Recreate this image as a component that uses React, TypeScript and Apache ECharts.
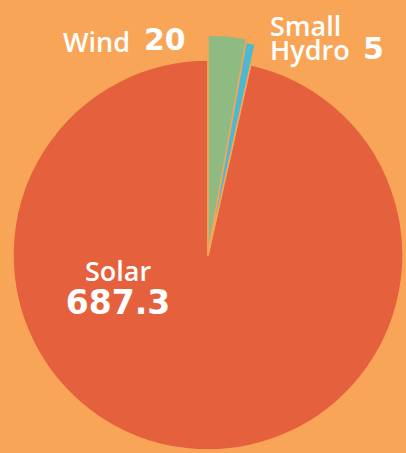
import React, { useEffect, useRef } from "react";
import * as echarts from "echarts";

const categories = ["Wind", "Small Hydro", "Solar"];
const values = [20, 5, 687.3];
const colors = ["#8FBB83", "#4DB9D1", "#E5613E"];
const bgColor = "#F8A557";

export default function App() {
  const ref = useRef<HTMLDivElement>(null);
  useEffect(() => {
    if (!ref.current) return;
    const chart = echarts.init(ref.current, null, { renderer: "svg" });
    const radii = [195, 220, 216];
    const center = [208, 255];
    const makeSeries = (visibleIdx: number[], r: number) => ({
      type: "pie",
      center,
      radius: [0, r],
      startAngle: 90,
      clockwise: true,
      silent: true,
      label: { show: false },
      labelLine: { show: false },
      emphasis: { disabled: true },
      data: categories.map((name, i) => ({
        name,
        value: values[i],
        itemStyle: visibleIdx.includes(i)
          ? { color: colors[i], borderColor: bgColor, borderWidth: 1.5 }
          : { color: "rgba(0,0,0,0)", borderWidth: 0 },
      })),
    });
    const white = "#ffffff";
    const wordFont = "'Open Sans', sans-serif";
    const numFont = "'DejaVu Sans', sans-serif";
    const hydroWords = categories[1].split(" ").join("\n");
    chart.setOption({
      animation: false,
      backgroundColor: bgColor,
      series: [
        makeSeries([2], radii[0]),
        makeSeries([0], radii[1]),
        makeSeries([1], radii[2]),
      ],
      graphic: [
        { type: "text", z: 100, x: 63, y: 41, style: { text: categories[0], fill: white, font: `600 27px ${wordFont}`, verticalAlign: "middle", align: "left" } },
        { type: "text", z: 100, x: 144, y: 39, style: { text: String(values[0]), fill: white, font: `bold 30px ${numFont}`, verticalAlign: "middle", align: "left" } },
        { type: "text", z: 100, x: 270, y: 13, style: { text: hydroWords, fill: white, font: `600 27px ${wordFont}`, lineHeight: 24, verticalAlign: "top", align: "left" } },
        { type: "text", z: 100, x: 363, y: 48, style: { text: String(values[1]), fill: white, font: `bold 30px ${numFont}`, verticalAlign: "middle", align: "left" } },
        {
          type: "text", z: 100, x: 118, y: 255,
          style: {
            text: `{a|${categories[2]}}\n{b|${values[2]}}`,
            fill: white,
            align: "center",
            verticalAlign: "top",
            rich: {
              a: { fill: white, font: `600 27px ${wordFont}`, lineHeight: 30, align: "center" },
              b: { fill: white, font: `bold 33px ${numFont}`, lineHeight: 34, align: "center" },
            },
          },
        },
      ],
    });
    return () => chart.dispose();
  }, []);
  return (
    <div
      ref={ref}
      style={{ position: "absolute", left: 0, top: 0, width: 406, height: 453 }}
    />
  );
}
